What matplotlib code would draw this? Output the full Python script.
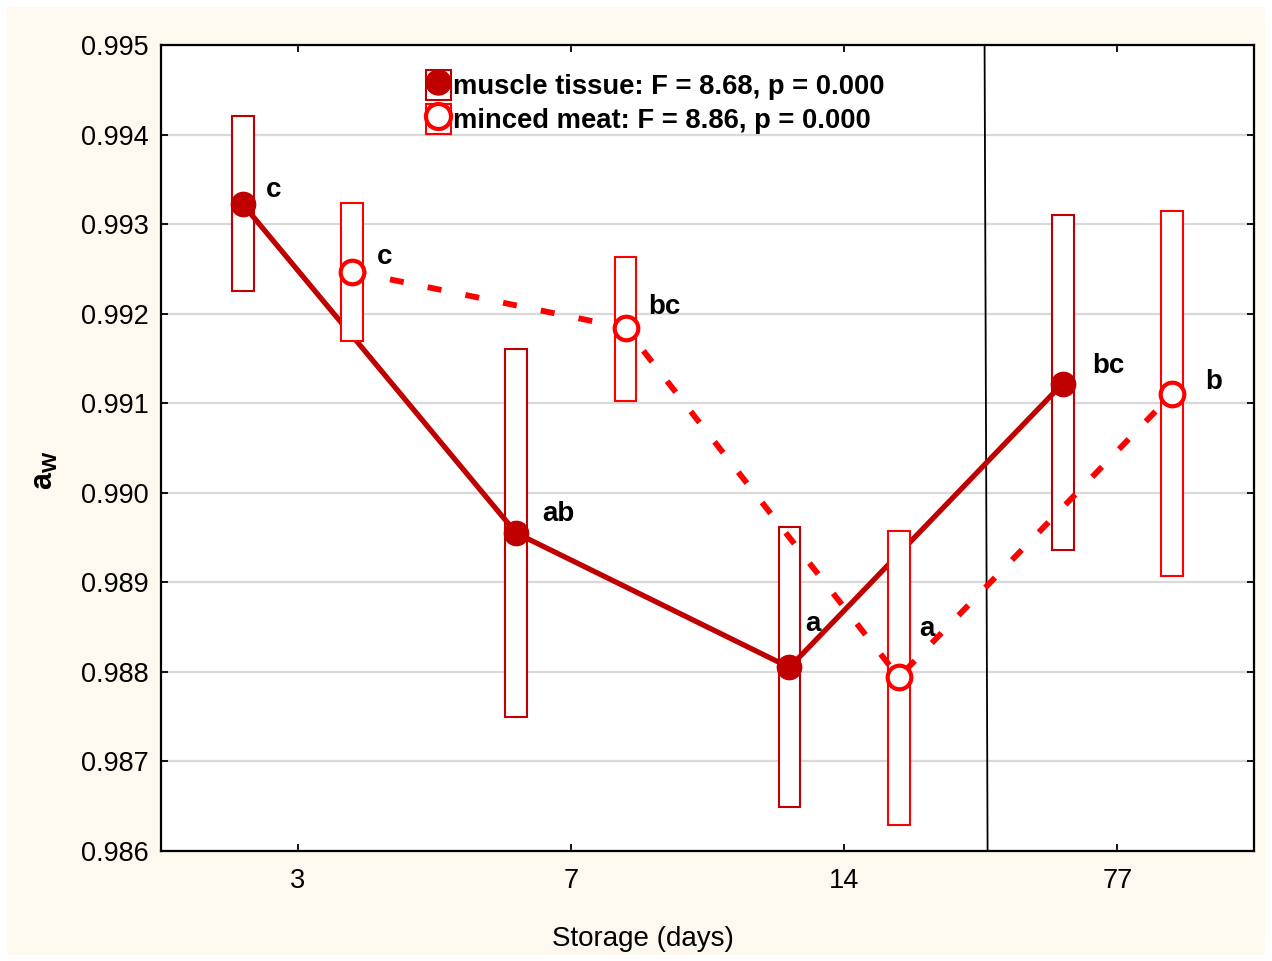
import matplotlib
matplotlib.use("Agg")
import matplotlib.pyplot as plt
from matplotlib.patches import Rectangle
from matplotlib.lines import Line2D
import numpy as np

plt.rcParams['font.family'] = ['Liberation Sans', 'DejaVu Sans']
plt.rcParams['mathtext.fontset'] = 'custom'
plt.rcParams['mathtext.bf'] = 'Liberation Sans:bold'
plt.rcParams['mathtext.rm'] = 'Liberation Sans'

# ---- data ----
categories = ["3", "7", "14", "77"]
muscle_mean = [0.99322, 0.98955, 0.98805, 0.99122]
muscle_upper = [0.99421, 0.99160, 0.98962, 0.99310]
muscle_lower = [0.99225, 0.98750, 0.98649, 0.98936]
minced_mean = [0.99247, 0.99184, 0.98794, 0.99110]
minced_upper = [0.99324, 0.99263, 0.98957, 0.99315]
minced_lower = [0.99170, 0.99103, 0.98629, 0.98907]
muscle_letters = ["c", "ab", "a", "bc"]
minced_letters = ["c", "bc", "a", "b"]
muscle_label = "muscle tissue: F = 8.68, p = 0.000"
minced_label = "minced meat: F = 8.86, p = 0.000"
yticks = [0.986, 0.987, 0.988, 0.989, 0.990, 0.991, 0.992, 0.993, 0.994, 0.995]

# ---- styling ----
dark = '#C00000'
red = '#FF0000'
cream = '#FEF9EE'
off = 0.2
bw = 0.08

fig = plt.figure(figsize=(12.72, 9.61), dpi=100, facecolor='white')
fig.patches.append(Rectangle((7/1272, 6/961), 1258/1272, 948/961,
                             transform=fig.transFigure, facecolor=cream,
                             edgecolor='none', zorder=-10))
ax = fig.add_axes([161/1272, 1-851/961, (1254-161)/1272, (851-45)/961])
ax.set_facecolor('white')

x = np.arange(len(categories))
xm = x - off
xn = x + off

# muscle series
mu = np.array(muscle_upper); ml = np.array(muscle_lower)
ax.bar(xm, mu - ml, bottom=ml, width=bw, facecolor='white', edgecolor=dark,
       linewidth=1.5, zorder=3)
ax.plot(xm, muscle_mean, color=dark, lw=3.8, marker='o', ms=17.5,
        mfc=dark, mec=dark, zorder=4)
# minced series
nu = np.array(minced_upper); nl = np.array(minced_lower)
ax.bar(xn, nu - nl, bottom=nl, width=bw, facecolor='white', edgecolor=red,
       linewidth=1.5, zorder=5)
ax.plot(xn, minced_mean, color=red, lw=4.2, ls=(0, (2.4, 4.2)),
        dash_capstyle='butt', zorder=6)
ax.plot(xn, minced_mean, ls='none', marker='o', ms=17, mfc='white', mec=red,
        mew=3.0, zorder=7)

# letters
m_offs = [(23, 7), (26, 12), (16, 36), (30, 11)]
n_offs = [(25, 8), (23, 14), (20, 41), (33, 5)]
for xi, yi, t, (dx, dy) in zip(xm, muscle_mean, muscle_letters, m_offs):
    ax.annotate(t, (xi, yi), xytext=(dx, dy), textcoords='offset pixels',
                ha='left', va='baseline', fontsize=20, fontweight='bold', zorder=8)
for xi, yi, t, (dx, dy) in zip(xn, minced_mean, minced_letters, n_offs):
    ax.annotate(t, (xi, yi), xytext=(dx, dy), textcoords='offset pixels',
                ha='left', va='baseline', fontsize=20, fontweight='bold', zorder=8)

# separator line
ax.plot([2.514, 2.525], [0.995, 0.986], color='black', lw=1.3, zorder=2)

ax.set_xlim(-0.5, 3.5)
ax.set_ylim(0.986, 0.995)
ax.set_xticks(x)
ax.set_xticklabels(categories)
ax.set_yticks(yticks)
ax.set_yticklabels([f"{v:.3f}" for v in yticks])
ax.yaxis.grid(True, color='#D9D9D9', lw=1.6, zorder=0)
ax.set_axisbelow(True)
ax.tick_params(axis='both', which='both', direction='in', top=True, right=True,
               length=5, width=1.3, labelsize=19.5)
ax.tick_params(axis='y', pad=9)
ax.tick_params(axis='x', pad=12)
for s in ax.spines.values():
    s.set_linewidth(1.6)

ax.set_xlabel("Storage (days)", fontsize=20)
ax.xaxis.set_label_coords((643-161)/1093, -0.0935)
ax.set_ylabel(r"$\mathbf{a_W}$", fontsize=22)
ax.yaxis.set_label_coords((60-161)/1093, (851-470)/806)

# legend
h1 = (Rectangle((0, 0), 1, 1, facecolor='white', edgecolor=dark, lw=1.5),
      Line2D([], [], color=dark, marker='o', ms=18, mfc=dark, mec=dark, ls='none'))
h2 = (Rectangle((0, 0), 1, 1, facecolor='white', edgecolor=red, lw=1.5),
      Line2D([], [], color=red, lw=3, marker='o', ms=18, mfc='white', mec=red, mew=3))
leg = ax.legend([h1, h2], [muscle_label, minced_label], loc='upper left',
                bbox_to_anchor=((426-161)/1093, 1-(70-45)/806), frameon=False,
                prop={'weight': 'bold', 'size': 19.7}, handlelength=0.9,
                handleheight=1.3, handletextpad=0.1, labelspacing=0.15,
                borderpad=0, borderaxespad=0)
leg.set_zorder(10)

fig.savefig("out.png", dpi=100, facecolor=fig.get_facecolor())
